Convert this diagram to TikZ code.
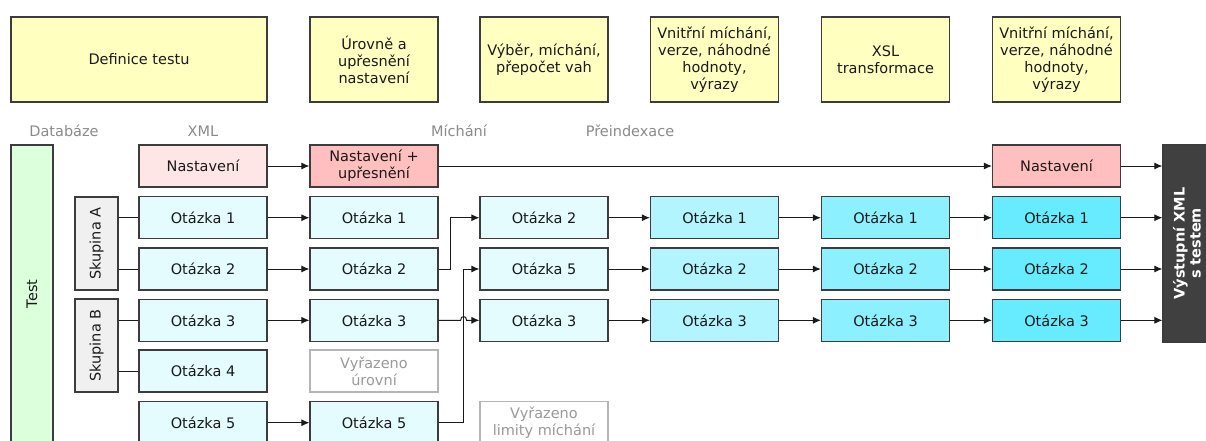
\documentclass[tikz,border=0pt]{standalone}
\usepackage{fontspec}
\setmainfont{DejaVu Sans}
\usetikzlibrary{arrows.meta,calc}

\definecolor{edge}{HTML}{3C3C3C}
\definecolor{ink}{HTML}{1A1A1A}
\definecolor{note}{HTML}{FFFFC0}
\definecolor{pinkA}{HTML}{FFE6E6}
\definecolor{pinkB}{HTML}{FFBFBF}
\definecolor{cyanA}{HTML}{E5FCFF}
\definecolor{cyanB}{HTML}{B3F5FF}
\definecolor{cyanC}{HTML}{8CF0FF}
\definecolor{cyanD}{HTML}{66EBFF}
\definecolor{dbgreen}{HTML}{DCFFDC}
\definecolor{grpgray}{HTML}{F0F0F0}
\definecolor{outdark}{HTML}{404040}
\definecolor{caption}{HTML}{8A8A8A}
\definecolor{dropline}{HTML}{B5B5B5}
\definecolor{droptext}{HTML}{9A9A9A}

\begin{document}
\begin{tikzpicture}[x=1pt,y=-1pt,
  font=\fontsize{14.5}{17}\selectfont,
  box/.style={draw=edge, line width=1.2pt, minimum width=128pt, minimum height=42pt,
    inner sep=0pt, align=center, text=ink},
  note box/.style={box, fill=note, minimum height=85pt},
  dropped/.style={box, draw=dropline, fill=white, text=droptext},
  stage/.style={text=caption},
  link/.style={draw=ink, line width=1pt},
  flow/.style={link, -{Latex[length=8pt,width=7pt]}}]

\useasboundingbox (0,0) rectangle (1206,440);
\clip (0,0) rectangle (1206,440);

% processing steps (top row)
\node[note box, minimum width=256pt] (d0) at (139,59.5) {Definice testu};
\node[note box] (d1) at (374,59.5) {Úrovně a\\upřesnění\\nastavení};
\node[note box] (d2) at (544,59.5) {Výběr, míchání,\\přepočet vah};
\node[note box] (d3) at (714.5,59.5) {Vnitřní míchání,\\verze, náhodné\\hodnoty,\\výrazy};
\node[note box] (d4) at (885.5,59.5) {XSL\\transformace};
\node[note box] (d5) at (1056.5,59.5) {Vnitřní míchání,\\verze, náhodné\\hodnoty,\\výrazy};

% stage captions
\node[stage] (l0) at (64,131) {Databáze};
\node[stage] (l1) at (203,131) {XML};
\node[stage] (l2) at (459,131) {Míchání};
\node[stage] (l3) at (630,131) {Přeindexace};

% database side
\node[box, fill=dbgreen, rotate=90, minimum width=298pt, minimum height=42pt] (test) at (32,294) {Test};
\node[box, fill=grpgray, rotate=90, minimum width=93pt, minimum height=43pt] (ska) at (96.5,243.5) {Skupina A};
\node[box, fill=grpgray, rotate=90, minimum width=93pt, minimum height=43pt] (skb) at (96.5,345.5) {Skupina B};

% column 1: XML
\node[box, fill=pinkA] (s1) at (203,166) {Nastavení};
\node[box, fill=cyanA] (q11) at (203,217.7) {Otázka 1};
\node[box, fill=cyanA] (q21) at (203,269) {Otázka 2};
\node[box, fill=cyanA] (q31) at (203,320.3) {Otázka 3};
\node[box, fill=cyanA] (q41) at (203,371) {Otázka 4};
\node[box, fill=cyanA] (q51) at (203,422.7) {Otázka 5};

% column 2: levels
\node[box, fill=pinkB] (s2) at (374,166) {Nastavení +\\upřesnění};
\node[box, fill=cyanA] (q12) at (374,217.7) {Otázka 1};
\node[box, fill=cyanA] (q22) at (374,269) {Otázka 2};
\node[box, fill=cyanA] (q32) at (374,320.3) {Otázka 3};
\node[dropped] (x42) at (374,371) {Vyřazeno\\úrovní};
\node[box, fill=cyanA] (q52) at (374,422.7) {Otázka 5};

% column 3: shuffling
\node[box, fill=cyanA] (c3a) at (544,217.7) {Otázka 2};
\node[box, fill=cyanA] (c3b) at (544,269) {Otázka 5};
\node[box, fill=cyanA] (c3c) at (544,320.3) {Otázka 3};
\node[dropped] (x53) at (544,422.7) {Vyřazeno\\limity míchání};

% column 4: reindexing
\node[box, fill=cyanB] (c4a) at (714.5,217.7) {Otázka 1};
\node[box, fill=cyanB] (c4b) at (714.5,269) {Otázka 2};
\node[box, fill=cyanB] (c4c) at (714.5,320.3) {Otázka 3};

% column 5
\node[box, fill=cyanC] (c5a) at (885.5,217.7) {Otázka 1};
\node[box, fill=cyanC] (c5b) at (885.5,269) {Otázka 2};
\node[box, fill=cyanC] (c5c) at (885.5,320.3) {Otázka 3};

% column 6
\node[box, fill=pinkB] (s6) at (1056.5,166) {Nastavení};
\node[box, fill=cyanD] (c6a) at (1056.5,217.7) {Otázka 1};
\node[box, fill=cyanD] (c6b) at (1056.5,269) {Otázka 2};
\node[box, fill=cyanD] (c6c) at (1056.5,320.3) {Otázka 3};

% output document
\node[box, fill=outdark, text=white, rotate=90, minimum width=197pt, minimum height=48pt,
  font=\fontsize{14.5}{16}\selectfont\bfseries] (out) at (1187,243.5) {Výstupní XML\\s testem};

% group membership
\draw[link] (q11.west -| ska.south) -- (q11.west);
\draw[link] (q21.west -| ska.south) -- (q21.west);
\draw[link] (q31.west -| skb.south) -- (q31.west);
\draw[link] (q41.west -| skb.south) -- (q41.west);

% settings flow
\draw[flow] (s1) -- (s2);
\draw[flow] (s2) -- (s6);
\draw[flow] (s6.east) -- (s6.east -| out.north);

% XML -> levels
\draw[flow] (q11) -- (q12);
\draw[flow] (q21) -- (q22);
\draw[flow] (q31) -- (q32);
\draw[flow] (q51) -- (q52);

% levels -> shuffling
\draw[flow] (q22.east) -- ++(12,0) |- (c3a.west);
\draw[flow] (q52.east) -- ++(25,0) |- (c3b.west);
\draw[flow] (q32.east) -- ($(q32.east)+(22,0)$)
  .. controls ($(q32.east)+(22,-5)$) and ($(q32.east)+(28,-5)$) .. ($(q32.east)+(28,0)$)
  -- (c3c.west);

% remaining stages
\draw[flow] (c3a) -- (c4a);
\draw[flow] (c3b) -- (c4b);
\draw[flow] (c3c) -- (c4c);
\draw[flow] (c4a) -- (c5a);
\draw[flow] (c4b) -- (c5b);
\draw[flow] (c4c) -- (c5c);
\draw[flow] (c5a) -- (c6a);
\draw[flow] (c5b) -- (c6b);
\draw[flow] (c5c) -- (c6c);
\draw[flow] (c6a.east) -- (c6a.east -| out.north);
\draw[flow] (c6b.east) -- (c6b.east -| out.north);
\draw[flow] (c6c.east) -- (c6c.east -| out.north);
\end{tikzpicture}
\end{document}
